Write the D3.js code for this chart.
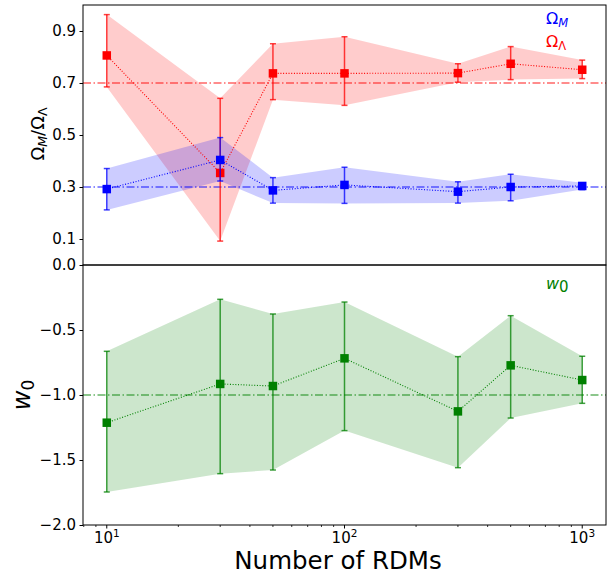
<!DOCTYPE html>
<html>
<head>
<meta charset="utf-8">
<script src="https://cdn.jsdelivr.net/npm/d3@7/dist/d3.min.js"></script>
<style>
  html, body { margin: 0; padding: 0; background: #fff; }
  svg { display: block; font-family: "DejaVu Sans", sans-serif; }
</style>
</head>
<body>
<svg id="chart" width="614" height="573"></svg>
<script>
// Number of RDMs used in each fit
const nRDMs = [10, 30, 50, 100, 300, 500, 1000];

// Omega_Lambda estimates with lower / upper bounds
const omegaL   = [0.806, 0.354, 0.737, 0.737, 0.738, 0.774, 0.751];
const omegaLHi = [0.963, 0.641, 0.851, 0.878, 0.774, 0.840, 0.788];
const omegaLLo = [0.685, 0.092, 0.636, 0.614, 0.703, 0.713, 0.717];

// Omega_M estimates with lower / upper bounds
const omegaM   = [0.292, 0.404, 0.287, 0.308, 0.282, 0.300, 0.304];
const omegaMHi = [0.371, 0.490, 0.336, 0.376, 0.320, 0.349, 0.316];
const omegaMLo = [0.212, 0.323, 0.238, 0.237, 0.238, 0.247, 0.290];

// w0 estimates with lower / upper bounds
const w0   = [-1.213, -0.915, -0.931, -0.718, -1.126, -0.772, -0.885];
const w0Hi = [-0.664, -0.264, -0.377, -0.285, -0.705, -0.390, -0.702];
const w0Lo = [-1.746, -1.605, -1.577, -1.274, -1.559, -1.177, -1.064];

// Fiducial values
const trueOmegaL = 0.7;
const trueOmegaM = 0.3;
const trueW0 = -1.0;

// Tick values
const topTicks = [0.0, 0.1, 0.3, 0.5, 0.7, 0.9];
const bottomTicks = [-2.0, -1.5, -1.0, -0.5];
const xMajorTicks = [10, 100, 1000];

const svg = d3.select("#chart");
const left = 83, right = 606;
const topY = 5, midY = 265, botY = 525;
const tickFont = 15;

const x = d3.scaleLog().domain([Math.pow(10, 0.9), Math.pow(10, 3.1)]).range([left, right]);
const yTop = d3.scaleLinear().domain([0, 1.0]).range([midY, topY]);
const yBot = d3.scaleLinear().domain([-2.0, 0.0]).range([botY, midY]);

const fmt = d3.format(".1f");
const minusFmt = v => fmt(v).replace("-", "\u2212");

function panel(y, series, refs) {
  const g = svg.append("g");
  const clipId = "clip" + Math.random().toString(36).slice(2);
  svg.append("clipPath").attr("id", clipId)
    .append("rect").attr("x", left).attr("y", y.range()[1])
    .attr("width", right - left).attr("height", y.range()[0] - y.range()[1]);
  const plot = g.append("g").attr("clip-path", `url(#${clipId})`);

  // shaded bands between lower and upper bounds
  series.forEach(s => {
    const area = d3.area()
      .x((d, i) => x(nRDMs[i]))
      .y0((d, i) => y(s.lo[i]))
      .y1((d, i) => y(s.hi[i]));
    plot.append("path").attr("d", area(s.val))
      .attr("fill", s.color).attr("fill-opacity", 0.2).attr("stroke", "none");
  });

  // fiducial dash-dot lines
  refs.forEach(r => {
    plot.append("line")
      .attr("x1", left).attr("x2", right)
      .attr("y1", y(r.v)).attr("y2", y(r.v))
      .attr("stroke", r.color).attr("stroke-opacity", 0.6)
      .attr("stroke-width", 1.3).attr("stroke-dasharray", "8,2.5,1.5,2.5");
  });

  series.forEach(s => {
    // dotted connecting line
    const line = d3.line().x((d, i) => x(nRDMs[i])).y(d => y(d));
    plot.append("path").attr("d", line(s.val))
      .attr("fill", "none").attr("stroke", s.color)
      .attr("stroke-width", 1.1).attr("stroke-dasharray", "1,1.7");

    // error bars with caps
    const eb = plot.append("g").attr("stroke", s.color)
      .attr("stroke-opacity", s.barOpacity).attr("stroke-width", 1.5);
    s.val.forEach((v, i) => {
      const cx = x(nRDMs[i]);
      eb.append("line").attr("x1", cx).attr("x2", cx)
        .attr("y1", y(s.lo[i])).attr("y2", y(s.hi[i]));
      [s.lo[i], s.hi[i]].forEach(b => {
        eb.append("line").attr("x1", cx - 3).attr("x2", cx + 3)
          .attr("y1", y(b)).attr("y2", y(b));
      });
    });

    // square markers
    const m = 8.5;
    plot.append("g").selectAll("rect").data(s.val).join("rect")
      .attr("x", (d, i) => x(nRDMs[i]) - m / 2)
      .attr("y", d => y(d) - m / 2)
      .attr("width", m).attr("height", m)
      .attr("fill", s.color);
  });

  return g;
}

panel(yTop, [
  { val: omegaL, lo: omegaLLo, hi: omegaLHi, color: "#ff0000", barOpacity: 0.75 },
  { val: omegaM, lo: omegaMLo, hi: omegaMHi, color: "#0000ff", barOpacity: 0.75 }
], [
  { v: trueOmegaL, color: "#ff0000" },
  { v: trueOmegaM, color: "#0000ff" }
]);

panel(yBot, [
  { val: w0, lo: w0Lo, hi: w0Hi, color: "#008000", barOpacity: 0.75 }
], [
  { v: trueW0, color: "#008000" }
]);

// y axes
function yAxis(y, ticks, formatter) {
  const ax = d3.axisLeft(y).tickValues(ticks).tickSize(3.5).tickPadding(3.5)
    .tickFormat(formatter);
  const g = svg.append("g").attr("transform", `translate(${left},0)`).call(ax);
  g.select(".domain").remove();
  g.selectAll(".tick line").attr("stroke", "#000").attr("stroke-width", 1);
  g.selectAll(".tick text").attr("font-size", tickFont).attr("fill", "#000")
    .attr("font-family", "DejaVu Sans");
  return g;
}
yAxis(yTop, topTicks, fmt);
yAxis(yBot, bottomTicks, minusFmt);

// x axis (log) along the bottom panel
const xMinor = [];
[1, 10, 100, 1000].forEach(dec => {
  for (let k = 2; k <= 9; k++) {
    const v = dec * k;
    if (v >= x.domain()[0] && v <= x.domain()[1]) xMinor.push(v);
  }
});
const xg = svg.append("g");
xg.selectAll("line.minor").data(xMinor).join("line")
  .attr("x1", d => x(d)).attr("x2", d => x(d))
  .attr("y1", botY).attr("y2", botY + 2).attr("stroke", "#000").attr("stroke-width", 0.8);
xg.selectAll("line.major").data(xMajorTicks).join("line")
  .attr("x1", d => x(d)).attr("x2", d => x(d))
  .attr("y1", botY).attr("y2", botY + 3.5).attr("stroke", "#000").attr("stroke-width", 1);
const xl = xg.selectAll("text").data(xMajorTicks).join("text")
  .attr("x", d => x(d)).attr("y", botY + 18).attr("text-anchor", "middle")
  .attr("font-size", tickFont).attr("fill", "#000");
xl.append("tspan").text("10");
xl.append("tspan").attr("dy", -6).attr("font-size", 10.5).text(d => Math.round(Math.log10(d)));

// frames
[[topY, midY], [midY, botY]].forEach(([a, b]) => {
  svg.append("rect").attr("x", left).attr("y", a).attr("width", right - left).attr("height", b - a)
    .attr("fill", "none").attr("stroke", "#000").attr("stroke-width", 1);
});

// axis titles
const yl1 = svg.append("text")
  .attr("transform", `translate(43.5,134) rotate(-90)`)
  .attr("text-anchor", "middle").attr("font-size", 18).attr("fill", "#000");
yl1.append("tspan").text("\u03A9");
yl1.append("tspan").attr("font-style", "italic").attr("font-size", 12.5).attr("dy", 3.5).text("M");
yl1.append("tspan").attr("dy", -3.5).text("/\u03A9");
yl1.append("tspan").attr("font-size", 12.5).attr("dy", 3.5).text("\u039B");

const yl2 = svg.append("text")
  .attr("transform", `translate(30,395) rotate(-90)`)
  .attr("text-anchor", "middle").attr("font-size", 24).attr("fill", "#000");
yl2.append("tspan").attr("font-style", "italic").text("w");
yl2.append("tspan").attr("font-size", 17).attr("dy", 4).text("0");

svg.append("text").attr("x", 338).attr("y", 568.5).attr("text-anchor", "middle")
  .attr("font-size", 24.5).attr("fill", "#000").text("Number of RDMs");

// series labels
const lm = svg.append("text").attr("x", 546).attr("y", 23.5).attr("font-size", 16).attr("fill", "#0000ff");
lm.append("tspan").text("\u03A9");
lm.append("tspan").attr("font-style", "italic").attr("font-size", 11.5).attr("dy", 3).text("M");
const ll = svg.append("text").attr("x", 546).attr("y", 47).attr("font-size", 16).attr("fill", "#ff0000");
ll.append("tspan").text("\u03A9");
ll.append("tspan").attr("font-size", 11.5).attr("dy", 3).text("\u039B");
const lw = svg.append("text").attr("x", 546).attr("y", 288.5).attr("font-size", 16).attr("fill", "#008000");
lw.append("tspan").attr("font-style", "italic").text("w");
lw.append("tspan").attr("font-size", 15).attr("dy", 3).text("0");
</script>
</body>
</html>
